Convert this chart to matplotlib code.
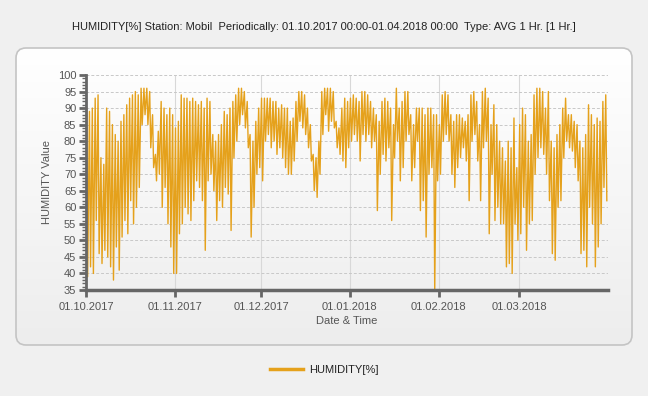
import matplotlib

matplotlib.use("Agg")
import matplotlib.pyplot as plt
import matplotlib.dates as mdates
import numpy as np
import pandas as pd
from matplotlib.patches import FancyBboxPatch
from matplotlib.ticker import MultipleLocator

plt.rcParams["font.family"] = ["Liberation Sans", "DejaVu Sans"]

TITLE = ("HUMIDITY[%] Station: Mobil  Periodically: 01.10.2017 00:00-01.04.2018 00:00"
         "  Type: AVG 1 Hr. [1 Hr.]")
SERIES_NAME = "HUMIDITY[%]"
START = "2017-10-01"
END = "2018-04-01"
MONTH_TICKS = ["2017-10-01", "2017-11-01", "2017-12-01",
               "2018-01-01", "2018-02-01", "2018-03-01"]

# daily highs / lows (01.10.2017 .. 31.03.2018)
DAILY_MAX = [
    90, 89, 90, 93, 94, 75, 73, 90, 89, 85, 82, 80, 86, 88, 91, 93, 94, 95, 94, 96,
    96, 96, 95, 88, 76, 83, 92, 90, 88, 90, 88,
    84, 86, 94, 93, 93, 92, 93, 92, 91, 92, 90, 93, 92, 82, 80, 82, 85, 89, 88, 90,
    92, 94, 96, 96, 95, 92, 82, 80, 86, 90,
    93, 93, 93, 93, 92, 92, 90, 91, 90, 90, 86, 87, 92, 95, 95, 94, 90, 85, 76, 75,
    80, 95, 96, 96, 96, 95, 86, 84, 90, 93, 92,
    93, 94, 93, 92, 95, 95, 94, 92, 90, 88, 86, 92, 93, 92, 90, 85, 96, 90, 92, 95,
    95, 88, 85, 90, 90, 90, 88, 90, 90, 88, 88,
    85, 94, 95, 94, 88, 86, 88, 88, 87, 86, 88, 94, 95, 92, 85, 95, 96, 93, 85, 91,
    85, 80, 78, 74, 80, 78, 87, 72,
    85, 90, 88, 80, 82, 94, 96, 96, 95, 90, 95, 80, 78, 82, 85, 90, 93, 88, 88, 86,
    85, 80, 78, 82, 91, 88, 85, 87, 86, 92, 94,
]
DAILY_MIN = [
    39, 42, 40, 56, 46, 43, 47, 45, 42, 38, 48, 41, 51, 56, 52, 62, 55, 60, 66, 85,
    88, 85, 78, 72, 68, 70, 60, 66, 55, 48, 40,
    40, 52, 55, 60, 58, 56, 62, 68, 66, 62, 47, 68, 70, 65, 56, 62, 60, 66, 64, 53,
    75, 80, 85, 88, 84, 78, 51, 60, 70, 72,
    68, 80, 82, 78, 80, 76, 78, 75, 72, 70, 70, 74, 80, 86, 84, 82, 78, 74, 65, 63,
    70, 82, 88, 83, 86, 84, 78, 76, 74, 72, 78,
    80, 82, 80, 74, 82, 80, 82, 78, 80, 59, 70, 76, 74, 78, 56, 75, 80, 68, 72, 80,
    82, 68, 72, 80, 59, 62, 51, 70, 72, 35, 68,
    70, 80, 82, 80, 70, 66, 72, 75, 78, 74, 62, 80, 82, 74, 62, 78, 80, 52, 70, 56,
    60, 55, 55, 42, 43, 40, 55, 50,
    52, 60, 47, 55, 56, 70, 75, 78, 76, 70, 62, 46, 44, 60, 62, 75, 80, 78, 77, 72,
    68, 46, 47, 42, 60, 55, 42, 48, 55, 66, 62,
]

days = pd.date_range(START, periods=len(DAILY_MAX), freq="D")
times = []
values = []
for day, hi, lo in zip(days, DAILY_MAX, DAILY_MIN):
    times += [day + pd.Timedelta(hours=5), day + pd.Timedelta(hours=14)]
    values += [hi, lo]

fig = plt.figure(figsize=(6.48, 3.96), dpi=100)
fig.patch.set_facecolor("#f0f0f0")

# rounded panel with a soft vertical gradient
panel_kw = dict(boxstyle="round,pad=0,rounding_size=0.1", transform=fig.dpi_scale_trans)
clip = FancyBboxPatch((0.16, 0.51), 6.16, 2.97, **panel_kw)
bg = fig.add_axes([0, 0, 1, 1], zorder=0)
bg.axis("off")
grad = np.linspace(0, 1, 256).reshape(-1, 1)
bg.imshow(grad, cmap=matplotlib.colors.LinearSegmentedColormap.from_list(
    "g", ["#ffffff", "#ededed"]), aspect="auto", extent=[0, 1, 0.129, 0.879],
    origin="upper")
bg.set_xlim(0, 1)
bg.set_ylim(0, 1)
bg.images[0].set_clip_path(clip)
fig.add_artist(FancyBboxPatch((0.16, 0.51), 6.16, 2.97, facecolor="none",
                              edgecolor="#c4c4c4", linewidth=1.2, **panel_kw))

ax = fig.add_axes([0.1327, 0.2677, 0.8056, 0.5429], zorder=1)
ax.patch.set_alpha(0)
line, = ax.plot(times, values, color="#e5a11b", linewidth=1.0, label=SERIES_NAME)

ax.set_xlim(pd.Timestamp(START), pd.Timestamp(END))
ax.set_ylim(35, 100)
ax.yaxis.set_major_locator(MultipleLocator(5))
ax.yaxis.set_minor_locator(MultipleLocator(1))
ax.set_xticks(pd.to_datetime(MONTH_TICKS))
ax.xaxis.set_major_formatter(mdates.DateFormatter("%d.%m.%Y"))

ax.grid(axis="y", color="#c8c8c8", linestyle=(0, (3, 2)), linewidth=0.7)
ax.grid(axis="x", color="#d8d8d8", linestyle="-", linewidth=0.8)
ax.set_axisbelow(True)

for side in ("top", "right"):
    ax.spines[side].set_visible(False)
ax.spines["left"].set_color("#666666")
ax.spines["left"].set_linewidth(2)
ax.spines["bottom"].set_color("#666666")
ax.spines["bottom"].set_linewidth(2.5)
ax.tick_params(axis="both", which="major", colors="#666666", width=2, length=5,
               labelcolor="#555555", labelsize=8)
ax.tick_params(axis="y", which="minor", colors="#666666", width=1, length=3)
ax.tick_params(axis="y", pad=2)

ax.set_xlabel("Date & Time", fontsize=8, color="#555555", labelpad=3)
ax.set_ylabel("HUMIDITY Value", fontsize=8, color="#555555", labelpad=4)

fig.text(0.5, 0.932, TITLE, ha="center", va="center", fontsize=8, color="#222222")
fig.legend(handles=[line], loc="center", bbox_to_anchor=(0.5, 0.066), frameon=False,
           fontsize=8, handlelength=3, handletextpad=0.5,
           labelcolor="#222222").get_lines()[0].set_linewidth(2.5)

fig.savefig("out.png", dpi=100, facecolor=fig.get_facecolor())
